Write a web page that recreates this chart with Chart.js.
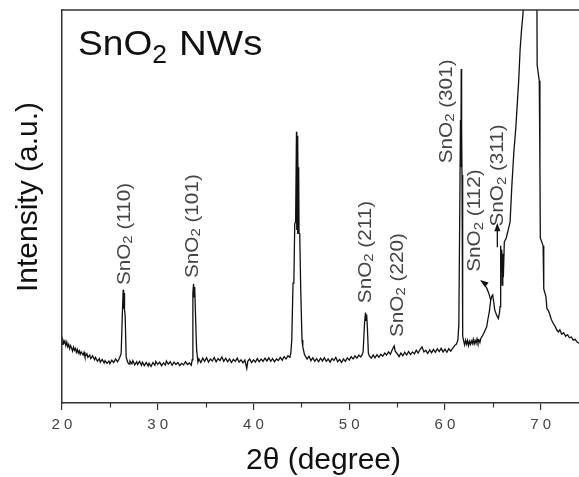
<!DOCTYPE html>
<html>
<head>
<meta charset="utf-8">
<script src="https://cdn.jsdelivr.net/npm/chart.js@4.4.1/dist/chart.umd.min.js"></script>
<style>
  html, body { margin: 0; padding: 0; background: #fff; }
  #wrap { width: 579px; height: 477px; }
</style>
</head>
<body>
<div id="wrap"><canvas id="xrd" width="579" height="477"></canvas></div>
<script>
// XRD pattern of SnO2 nanowires
const twoTheta = [
  20.0, 20.1, 20.2, 20.3, 20.4, 20.5, 20.6, 20.7, 20.8, 20.9, 21.0, 21.1, 21.2, 21.3, 21.4, 21.5, 21.6, 21.7, 21.8, 21.9,
  22.0, 22.2, 22.3, 22.4, 22.6, 22.7, 22.9, 23.0, 23.2, 23.4, 23.5, 23.7, 23.9, 24.0, 24.2, 24.4, 24.5, 24.7, 24.9, 25.0,
  25.2, 25.4, 25.6, 25.8, 26.0,
  26.18, 26.29, 26.39, 26.44, 26.48, 26.53, 26.6, 26.7, 26.8,
  26.9, 27.0, 27.1, 27.3, 27.4, 27.6, 27.8, 27.9, 28.1, 28.3, 28.4, 28.6, 28.8, 29.0, 29.1, 29.3, 29.5, 29.7, 29.8, 30.0,
  30.2, 30.4, 30.6, 30.8, 30.9, 31.1, 31.3, 31.5, 31.7, 31.9, 32.1, 32.3, 32.5, 32.7, 32.9, 33.1, 33.3, 33.5,
  33.6, 33.67, 33.74, 33.8, 33.86, 33.95, 34.06, 34.2,
  34.3, 34.5, 34.7, 34.9, 35.1, 35.3, 35.5, 35.7, 35.9, 36.1, 36.3, 36.5, 36.7, 36.9, 37.1, 37.3, 37.5, 37.7, 37.9, 38.1,
  38.3, 38.5, 38.7, 38.9, 39.1, 39.3, 39.4, 39.6, 39.8, 40.0, 40.2, 40.4, 40.6, 40.8, 41.0, 41.2, 41.4, 41.6, 41.8, 42.0,
  42.2, 42.4, 42.6, 42.8, 43.0, 43.2, 43.4, 43.6, 43.8, 43.9, 44.0,
  44.13, 44.22, 44.31, 44.4, 44.49, 44.52, 44.56, 44.6, 44.64, 44.68, 44.72, 44.76, 44.83, 44.94, 45.07, 45.15, 45.3,
  45.4, 45.6, 45.8, 46.0, 46.2, 46.4, 46.6, 46.8, 47.0, 47.2, 47.4, 47.6, 47.8, 48.0, 48.2, 48.4, 48.6, 48.8, 49.0, 49.2,
  49.4, 49.6, 49.8, 50.0, 50.2, 50.4, 50.6, 50.8, 51.0, 51.2, 51.35,
  51.45, 51.6, 51.7, 51.76, 51.82, 51.9, 52.0, 52.1,
  52.3, 52.5, 52.7, 52.9, 53.1, 53.3, 53.5, 53.7, 53.9, 54.1, 54.3, 54.5, 54.7, 54.8, 55.0, 55.2, 55.4, 55.6, 55.8, 56.0,
  56.2, 56.4, 56.6, 56.8, 57.0, 57.2, 57.4, 57.6, 57.8, 58.0, 58.2, 58.4, 58.6, 58.8, 59.0, 59.2, 59.4, 59.6, 59.8, 60.0,
  60.2, 60.4, 60.6, 60.8, 61.0, 61.2, 61.35,
  61.45, 61.55, 61.62, 61.66, 61.7, 61.74, 61.78, 61.82, 61.88, 61.95,
  62.05, 62.15, 62.25, 62.35, 62.45, 62.55, 62.65, 62.75, 62.85, 62.95, 63.05, 63.15, 63.25, 63.35, 63.45, 63.55, 63.65,
  63.75, 63.9,
  64.1, 64.36, 64.5, 64.63, 64.78, 64.9, 64.99, 65.1, 65.2, 65.4, 65.57, 65.7, 65.75, 65.82, 65.88, 65.93, 65.98, 66.04,
  66.1, 66.2, 66.4, 66.6, 66.8, 66.98, 67.1, 67.2, 67.4, 67.55, 67.7, 67.85, 68.0, 68.15, 68.3, 68.6, 68.9, 69.3, 69.55,
  69.6, 69.63, 69.85, 69.92, 69.96, 70.25, 70.32, 70.55, 70.65, 70.8, 70.95, 71.1, 71.3, 71.5, 71.7, 71.85, 72.0, 72.2,
  72.4, 72.6, 72.8, 73.0, 73.2, 73.4, 73.6, 73.8, 74.0
];
const intensity = [
  15.0, 16.0, 15.2, 15.8, 14.6, 15.5, 14.3, 14.9, 13.8, 14.6, 14.0, 13.2, 14.2, 13.4, 13.9, 12.9, 13.6, 12.7, 13.3, 12.4,
  13.0, 12.2, 12.9, 11.8, 12.5, 11.6, 12.2, 11.3, 12.0, 11.0, 11.6, 10.6, 11.3, 10.4, 11.1, 10.2, 10.8, 10.1, 10.7, 10.0,
  10.9, 10.3, 11.2, 10.5, 11.4,
  12.6, 21.6, 28.8, 24.0, 28.0, 23.7, 22.0, 11.8, 10.8,
  10.2, 9.9, 10.7, 10.0, 10.8, 9.7, 10.5, 9.8, 10.6, 9.6, 10.4, 9.5, 10.3, 9.4, 10.1, 9.3, 10.3, 9.6, 10.6, 9.8,
  10.4, 9.5, 10.2, 9.7, 10.7, 9.9, 10.5, 9.6, 10.4, 9.8, 10.3, 9.5, 10.1, 9.7, 10.5, 9.8, 10.2, 9.6,
  11.0, 28.0, 30.3, 27.0, 29.5, 22.0, 13.5, 10.4,
  11.2, 10.3, 11.4, 10.6, 11.5, 10.4, 11.2, 10.7, 11.6, 10.5, 11.3, 10.8, 11.7, 10.6, 11.4, 10.5, 11.2, 10.3, 11.1, 10.6,
  11.4, 10.4, 11.0, 10.2, 10.9, 8.8, 10.6, 11.2, 10.3, 11.0, 10.4, 11.3, 10.5, 11.2, 10.6, 11.4, 10.7, 11.5, 10.6, 11.3,
  10.5, 11.2, 10.8, 11.6, 10.9, 11.8, 11.2, 12.0, 11.6, 12.7, 16.0,
  30.5, 31.0, 45.7, 46.0, 69.0, 44.0, 68.0, 43.0, 67.0, 44.0, 60.0, 43.2, 43.0, 28.3, 16.0, 14.3, 12.6,
  12.0, 11.2, 11.9, 10.8, 11.5, 10.6, 11.3, 10.5, 11.4, 10.7, 11.5, 10.6, 11.2, 10.4, 11.3, 10.8, 11.6, 10.5, 11.1, 10.3,
  11.2, 10.6, 11.5, 10.9, 11.8, 11.2, 12.0, 11.4, 12.2, 11.7, 12.3,
  13.0, 20.3, 23.0, 21.0, 22.5, 19.0, 12.7, 12.0,
  11.4, 12.2, 11.5, 12.3, 11.6, 12.4, 11.9, 12.7, 12.2, 13.0, 12.4, 13.6, 14.5, 13.2, 12.6, 11.8, 12.7, 12.0, 12.9, 12.2,
  13.1, 12.3, 13.0, 12.5, 13.4, 12.7, 13.6, 14.3, 13.0, 13.4, 12.6, 13.5, 12.8, 13.6, 12.9, 13.8, 13.1, 13.9, 13.0, 13.7,
  12.9, 13.8, 13.2, 13.9, 14.6, 15.0, 16.0,
  20.0, 50.0, 72.0, 60.0, 85.0, 70.0, 58.0, 30.0, 17.0, 15.8,
  14.8, 16.0, 15.0, 15.9, 14.6, 15.7, 14.9, 15.8, 15.1, 16.2, 15.0, 15.9, 15.2, 16.3, 15.3, 16.0, 15.4,
  16.5, 17.0,
  18.0, 19.4, 21.5, 23.2, 26.2, 27.2, 27.5, 25.5, 23.7, 22.3, 21.5, 23.0, 24.5, 40.0, 36.0, 39.0, 30.0, 38.0,
  32.0, 41.0, 42.0, 44.0, 46.0, 55.0, 60.0, 64.0, 70.0, 76.0, 82.0, 90.0, 95.0, 99.0, 108.0, 130.0, 140.0, 135.0, 112.0,
  105.0, 86.0, 82.0, 60.0, 42.0, 40.0, 29.0, 27.0, 24.0, 23.5, 22.5, 21.3, 20.3, 19.5, 18.5, 18.1, 18.6, 17.5,
  17.9, 17.0, 17.4, 16.6, 16.8, 16.0, 16.2, 15.5, 15.2
];

const xTicks = [20, 30, 40, 50, 60, 70];
const xMinorTicks = [25, 35, 45, 55, 65];

// peak assignments: (hkl), 2theta of the label, intensity where the label text starts
const peakHkl = ['(110)', '(101)', '(211)', '(220)', '(301)', '(112)', '(311)'];
const peakLabelX = [26.54, 33.67, 51.74, 55.08, 60.18, 63.14, 65.58];
const peakLabelY = [30.0, 31.8, 25.4, 16.8, 61.0, 33.4, 44.9];

// the two little arrows near (112) and (311): [x0, y0, xc, yc, x1, y1]
const arrows = [
  [64.78, 26.2, 64.4, 30.0, 63.84, 31.0],
  [65.47, 39.6, 65.47, 42.5, 65.47, 45.3]
];

function drawSnO2(ctx, rest, size, stretch) {
  // "SnO" + subscript 2 + rest, left aligned at current origin
  ctx.save();
  ctx.scale(stretch, 1);
  ctx.font = size + 'px "Liberation Sans", Arial, sans-serif';
  ctx.fillText('SnO', 0, 0);
  let w = ctx.measureText('SnO').width;
  const sub = Math.round(size * 0.72);
  ctx.font = sub + 'px "Liberation Sans", Arial, sans-serif';
  ctx.fillText('2', w, size * 0.22);
  w += ctx.measureText('2').width;
  ctx.font = size + 'px "Liberation Sans", Arial, sans-serif';
  ctx.fillText(rest, w, 0);
  ctx.restore();
}

const decor = {
  id: 'decor',
  afterDraw(chart) {
    const { ctx, chartArea: a, scales: { x, y } } = chart;
    ctx.save();
    ctx.strokeStyle = '#333';
    ctx.lineWidth = 1.5;
    // top frame line
    ctx.beginPath();
    ctx.moveTo(a.left, a.top);
    ctx.lineTo(a.right, a.top);
    ctx.stroke();
    // minor ticks
    ctx.lineWidth = 1.2;
    xMinorTicks.forEach(v => {
      const px = Math.round(x.getPixelForValue(v)) + 0.5;
      ctx.beginPath();
      ctx.moveTo(px, a.bottom);
      ctx.lineTo(px, a.bottom + 4.5);
      ctx.stroke();
    });

    // peak labels, rotated
    ctx.fillStyle = '#444';
    ctx.textBaseline = 'middle';
    ctx.textAlign = 'left';
    peakHkl.forEach((h, i) => {
      ctx.save();
      ctx.translate(x.getPixelForValue(peakLabelX[i]), y.getPixelForValue(peakLabelY[i]));
      ctx.rotate(-Math.PI / 2);
      drawSnO2(ctx, ' ' + h, 18, 1.15);
      ctx.restore();
    });

    // arrows
    ctx.strokeStyle = '#111';
    ctx.fillStyle = '#111';
    ctx.lineWidth = 1.3;
    arrows.forEach(r => {
      const p = [0, 2, 4].map(k => [x.getPixelForValue(r[k]), y.getPixelForValue(r[k + 1])]);
      ctx.beginPath();
      ctx.moveTo(p[0][0], p[0][1]);
      ctx.quadraticCurveTo(p[1][0], p[1][1], p[2][0], p[2][1]);
      ctx.stroke();
      const ang = Math.atan2(p[2][1] - p[1][1], p[2][0] - p[1][0]);
      ctx.beginPath();
      ctx.moveTo(p[2][0] + Math.cos(ang) * 2, p[2][1] + Math.sin(ang) * 2);
      ctx.lineTo(p[2][0] - Math.cos(ang - 0.45) * 7, p[2][1] - Math.sin(ang - 0.45) * 7);
      ctx.lineTo(p[2][0] - Math.cos(ang + 0.45) * 7, p[2][1] - Math.sin(ang + 0.45) * 7);
      ctx.closePath();
      ctx.fill();
    });

    // panel label
    ctx.fillStyle = '#111';
    ctx.textBaseline = 'alphabetic';
    ctx.save();
    ctx.translate(a.left + 16, a.top + 45);
    drawSnO2(ctx, '', 35, 1.06);
    ctx.restore();
    ctx.font = '35px "Liberation Sans", Arial, sans-serif';
    ctx.save();
    ctx.translate(a.left + 117, a.top + 45);
    ctx.scale(1.1, 1);
    ctx.fillText('NWs', 0, 0);
    ctx.restore();

    // axis titles
    ctx.font = '30px "Liberation Sans", Arial, sans-serif';
    ctx.textAlign = 'center';
    ctx.fillText('2\u03b8 (degree)', (a.left + a.right) / 2 + 3, 469);
    ctx.save();
    ctx.translate(37, 197);
    ctx.rotate(-Math.PI / 2);
    ctx.fillText('Intensity (a.u.)', 0, 0);
    ctx.restore();
    ctx.restore();
  }
};

new Chart(document.getElementById('xrd'), {
  type: 'line',
  data: {
    datasets: [{
      label: 'SnO2 NWs',
      data: twoTheta.map((t, i) => ({ x: t, y: intensity[i] })),
      borderColor: '#111',
      borderWidth: 1.3,
      pointRadius: 0,
      tension: 0,
      fill: false
    }]
  },
  options: {
    responsive: false,
    animation: false,
    layout: { padding: { top: 10, right: 0, left: 0, bottom: 0 } },
    plugins: { legend: { display: false }, tooltip: { enabled: false } },
    scales: {
      x: {
        type: 'linear',
        min: 20,
        max: 74,
        afterFit: s => { s.height = 74; },
        afterBuildTicks: s => { s.ticks = xTicks.map(v => ({ value: v })); },
        border: { display: true, color: '#333', width: 1.5 },
        grid: { display: true, drawOnChartArea: false, drawTicks: true, tickLength: 7, color: '#333', lineWidth: 1.2 },
        ticks: {
          padding: 6,
          color: '#444',
          font: { family: '"Liberation Sans", Arial, sans-serif', size: 15 },
          callback: v => String(v).split('').join(' ')
        }
      },
      y: {
        min: 0,
        max: 100,
        afterFit: s => { s.width = 62; },
        border: { display: true, color: '#333', width: 1.5 },
        grid: { display: true, drawOnChartArea: false, drawTicks: false },
        ticks: { display: false }
      }
    }
  },
  plugins: [decor]
});
</script>
</body>
</html>
